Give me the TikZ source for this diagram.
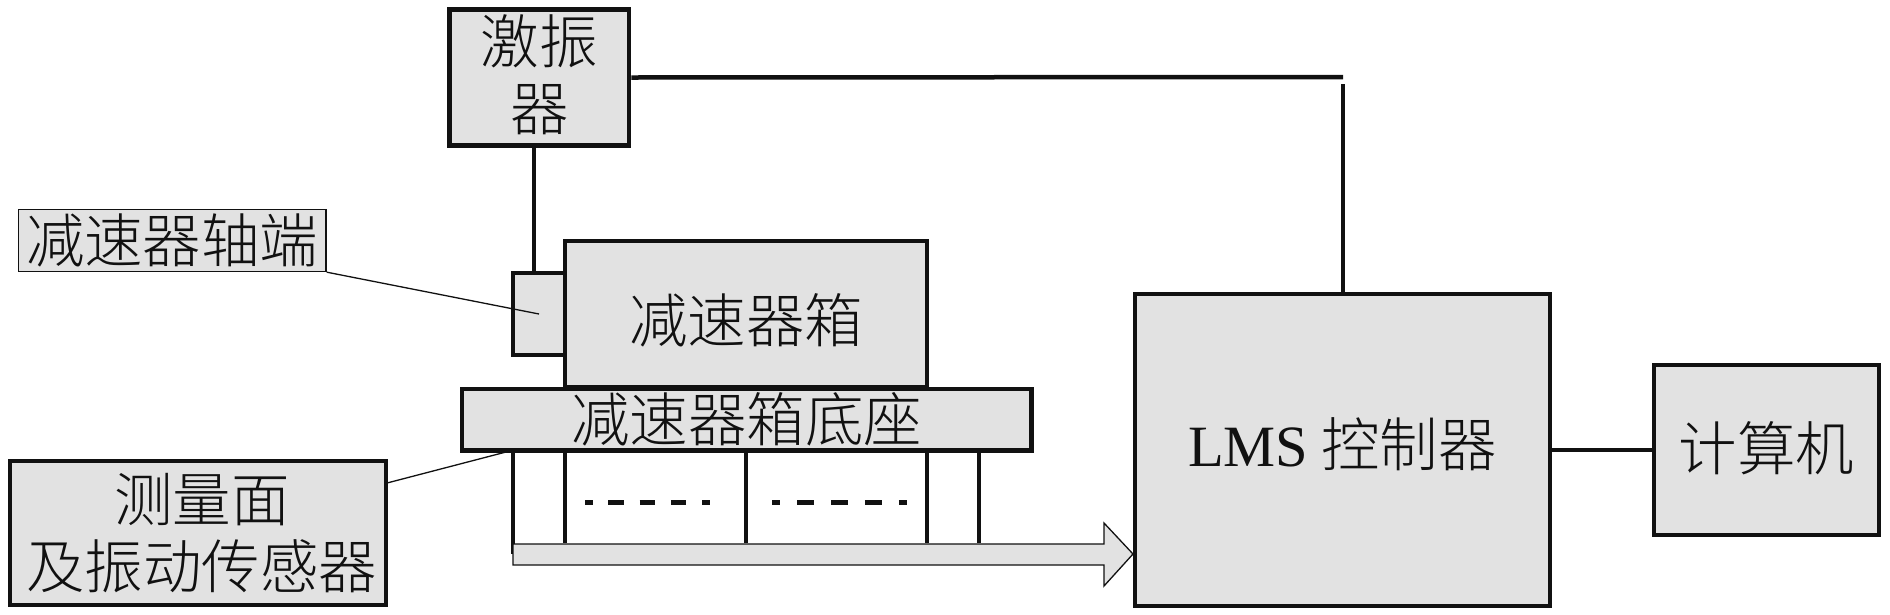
\documentclass[tikz,border=0pt]{standalone}
\usepackage{fontspec}
\setmainfont{Noto Sans CJK SC}[UprightFont=* Light]
\newfontfamily\latinfont{Liberation Serif}
\definecolor{boxgray}{HTML}{E2E2E2}
\definecolor{inkblack}{HTML}{111111}
\tikzset{
  block/.style={draw=inkblack, fill=boxgray, line width=4.5pt, inner sep=0pt, align=center, text=inkblack, font=\fontsize{58.5}{70}\selectfont},
  wire/.style={draw=inkblack, line width=4.5pt},
  thinwire/.style={draw=inkblack, line width=1.3pt},
}
\begin{document}
\begin{tikzpicture}[x=1pt, y=-1pt]
\useasboundingbox (0, 0) rectangle (1890, 614);

% legs below the base
\foreach \x/\y in {513/554, 565/543, 746/543, 927/543, 979/543} \draw[wire, line width=4pt] (\x, 451) -- (\x, \y);
\foreach \a/\b/\d/\p in {585/710/15.6/7.8, 772/907/16.9/8.45} \draw[wire, line width=5pt, dash pattern=on \d pt off \d pt, dash phase=\p pt] (\a, 502) -- (\b, 502);

\node[block, minimum width=52pt, minimum height=82pt] (shaft) at (539, 314) {};
\node[block, minimum width=362pt, minimum height=146pt, text height=61pt] (gearbox) at (746, 314) {减速器箱};
\node[block, minimum width=569.5pt, minimum height=61.5pt] (base) at (746.75, 419.5) {减速器箱底座};
\node[block, minimum width=179.5pt, minimum height=136pt] (exciter) at (539.25, 77.5) {激振\\[-2.4pt]器\rule[-10pt]{0pt}{0pt}};
\node[block, line width=1.3pt, minimum width=307.5pt, minimum height=62pt] (shaftlabel) at (172.25, 240.5) {减速器轴端};
\node[block, minimum width=376pt, minimum height=144pt] (sensor) at (198, 533) {\hspace*{8pt}测量面\\[-2.4pt]\hspace*{8pt}及振动传感器};
\node[block, minimum width=415pt, minimum height=312pt, text depth=15pt] (lms) at (1342.5, 450) {{\latinfont LMS} 控制器};
\node[block, minimum width=225pt, minimum height=170pt, text depth=7.4pt] (computer) at (1766.5, 450) {计算机};

\coordinate (corner) at (1343, 77);
\coordinate (lmstop) at (1343, 84);
\coordinate (drive) at (534, 271);
\coordinate (sensorpt) at (387, 483);
\coordinate (basept) at (506, 452);
\coordinate (tip) at (1133, 554);

\draw[wire] (exciter.east) -- (corner);
\draw[wire, line width=3.5pt] (lmstop) -- (lms.north -| lmstop);
\draw[wire, line width=4pt] (exciter.south -| drive) -- (drive);
\draw[wire] (lms.east) -- (computer.west);
\draw[thinwire] (shaftlabel.south east) -- (shaft.center);
\draw[thinwire] (sensorpt) -- (basept);

\draw[thinwire, fill=boxgray] (513, 544) -- (1104, 544) -- (1104, 523) -- (tip) -- (1104, 586) -- (1104, 565) -- (513, 565) -- cycle;
\end{tikzpicture}
\end{document}
